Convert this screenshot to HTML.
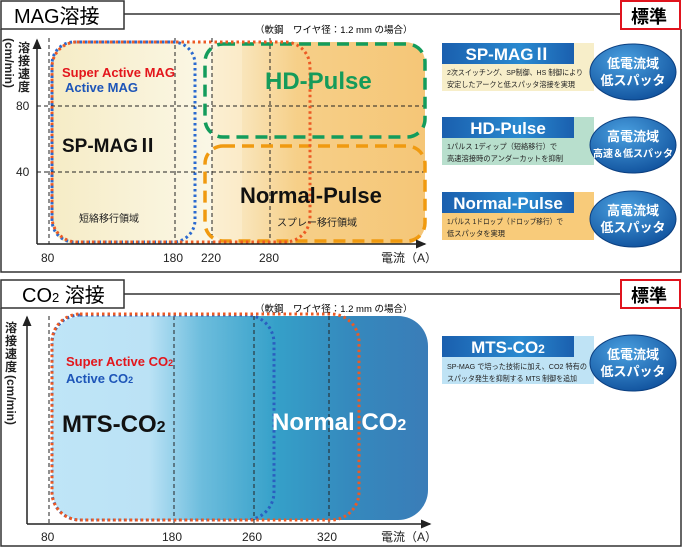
<!DOCTYPE html>
<html><head><meta charset="utf-8"><style>
body{margin:0;width:683px;height:548px;background:#fff;overflow:hidden}
svg{display:block;font-family:"Liberation Sans","Noto Sans CJK JP",sans-serif}
</style></head><body>
<svg width="683" height="548" viewBox="0 0 683 548">
<defs>
<linearGradient id="gy" x1="0" x2="1"><stop offset="0" stop-color="#f6ecc6"/><stop offset="1" stop-color="#fbf8e8"/></linearGradient>
<linearGradient id="go" x1="0" x2="1"><stop offset="0" stop-color="#fbf1d6"/><stop offset="0.4" stop-color="#f6cf88"/><stop offset="1" stop-color="#f5c677"/></linearGradient>
<linearGradient id="gb" gradientUnits="userSpaceOnUse" x1="52" x2="425"><stop offset="0" stop-color="#bfe5f7"/><stop offset="0.26" stop-color="#bbe2f5"/><stop offset="0.4" stop-color="#6dbddd"/><stop offset="0.6" stop-color="#35a0c9"/><stop offset="0.8" stop-color="#3589bd"/><stop offset="1" stop-color="#3a7db8"/></linearGradient>
<linearGradient id="gh" x1="0" x2="1"><stop offset="0" stop-color="#1a5fae"/><stop offset="0.6" stop-color="#2a8ad0"/><stop offset="1" stop-color="#1a5fae"/></linearGradient>
<radialGradient id="ge" cx="0.4" cy="0.3" r="0.8"><stop offset="0" stop-color="#4aa0e0"/><stop offset="1" stop-color="#0c4c98"/></radialGradient>
<marker id="ar" markerWidth="8" markerHeight="8" refX="6" refY="4" orient="auto"><path d="M0,1 L7,4 L0,7z" fill="#222"/></marker>
</defs>
<!-- TOP FRAME -->
<path d="M1 29 V272 H681 V29" fill="none" stroke="#333" stroke-width="1.5"/>
<line x1="124" y1="14" x2="621" y2="14" stroke="#333" stroke-width="1.5"/>
<rect x="1" y="1" width="123" height="28" fill="#fff" stroke="#333" stroke-width="1.5"/>
<text x="14" y="23" font-size="20">MAG溶接</text>
<rect x="621" y="1" width="59" height="28" fill="#fff" stroke="#e0141e" stroke-width="2"/>
<text x="631" y="23" font-size="18" font-weight="bold">標準</text>
<text x="255" y="33" font-size="9.5">（軟鋼　ワイヤ径：1.2 mm の場合）</text>
<rect x="52" y="42" width="170" height="202" rx="22" fill="url(#gy)"/>
<rect x="212" y="42" width="213" height="202" rx="20" fill="url(#go)"/>
<rect x="212" y="42" width="30" height="202" fill="#fbefd0" opacity="0.6"/>
<g stroke="#222" stroke-width="1" stroke-dasharray="4,3" fill="none">
<line x1="49" y1="38" x2="49" y2="244"/><line x1="175" y1="38" x2="175" y2="244"/>
<line x1="212" y1="38" x2="212" y2="244"/><line x1="270" y1="38" x2="270" y2="244"/>
<line x1="37" y1="106" x2="425" y2="106"/><line x1="37" y1="172" x2="425" y2="172"/>
</g>
<rect x="205" y="44" width="220" height="93" rx="18" fill="none" stroke="#139c5c" stroke-width="3.5" stroke-dasharray="12,7"/>
<rect x="205" y="146" width="220" height="95" rx="18" fill="none" stroke="#f09a10" stroke-width="3.5" stroke-dasharray="12,7"/>
<rect x="52" y="42" width="143" height="200" rx="22" fill="none" stroke="#2a6ad0" stroke-width="3" stroke-dasharray="2.5,3"/>
<rect x="52" y="42" width="258" height="200" rx="25" fill="none" stroke="#ec5a24" stroke-width="3" stroke-dasharray="2.5,3"/>
<line x1="37" y1="244" x2="425" y2="244" stroke="#222" stroke-width="1.5" marker-end="url(#ar)"/>
<line x1="37" y1="244" x2="37" y2="40" stroke="#222" stroke-width="1.5" marker-end="url(#ar)"/>
<text transform="translate(5,38) rotate(90)" font-size="12" font-weight="bold" fill="#222">(cm/min)</text>
<g font-size="12" font-weight="bold" fill="#222"><text x="18" y="52">溶</text><text x="18" y="65">接</text><text x="18" y="78">速</text><text x="18" y="91">度</text></g>
<text x="16" y="110" font-size="12" fill="#222">80</text>
<text x="16" y="176" font-size="12" fill="#222">40</text>
<g font-size="12" fill="#222"><text x="41" y="262">80</text><text x="163" y="262">180</text><text x="201" y="262">220</text><text x="259" y="262">280</text><text x="381" y="262">電流（A）</text></g>
<text x="62" y="77" font-size="13" font-weight="bold" fill="#e3161c">Super Active MAG</text>
<text x="65" y="92" font-size="13" font-weight="bold" fill="#1d55b8">Active MAG</text>
<text x="62" y="152" font-size="19" font-weight="bold" fill="#111">SP-MAGⅡ</text>
<text x="265" y="89" font-size="24" font-weight="bold" fill="#159b5a">HD-Pulse</text>
<text x="240" y="203" font-size="22" font-weight="bold" fill="#111">Normal-Pulse</text>
<text x="79" y="222" font-size="10" fill="#222">短絡移行領域</text>
<text x="277" y="226" font-size="10" fill="#222">スプレー移行領域</text>
<g font-size="7.5" fill="#222">
<rect x="442" y="43" width="152" height="48" fill="#f7eec9"/>
<rect x="442" y="43" width="132" height="21" fill="url(#gh)"/>
<text x="508" y="60" font-size="17" font-weight="bold" fill="#fff" text-anchor="middle">SP-MAGⅡ</text>
<text x="447" y="75" textLength="136" lengthAdjust="spacingAndGlyphs">2次スイッチング、SP制御、HS 制御により</text>
<text x="447" y="87" textLength="128" lengthAdjust="spacingAndGlyphs">安定したアークと低スパッタ溶接を実現</text>
<rect x="442" y="117" width="152" height="48" fill="#b8dfcd"/>
<rect x="442" y="117" width="132" height="21" fill="url(#gh)"/>
<text x="508" y="134" font-size="17" font-weight="bold" fill="#fff" text-anchor="middle">HD-Pulse</text>
<text x="447" y="149" textLength="110" lengthAdjust="spacingAndGlyphs">1パルス 1ディップ（短絡移行）で</text>
<text x="447" y="161" textLength="116" lengthAdjust="spacingAndGlyphs">高速溶接時のアンダーカットを抑制</text>
<rect x="442" y="192" width="152" height="48" fill="#f8cb7a"/>
<rect x="442" y="192" width="132" height="21" fill="url(#gh)"/>
<text x="508" y="209" font-size="17" font-weight="bold" fill="#fff" text-anchor="middle">Normal-Pulse</text>
<text x="447" y="224" textLength="116" lengthAdjust="spacingAndGlyphs">1パルス 1ドロップ（ドロップ移行）で</text>
<text x="447" y="236" textLength="58" lengthAdjust="spacingAndGlyphs">低スパッタを実現</text>
</g>
<g font-weight="bold" fill="#fff" text-anchor="middle">
<ellipse cx="633" cy="72" rx="43" ry="28" fill="url(#ge)" stroke="#0b3f80"/>
<text x="633" y="68" font-size="13">低電流域</text><text x="633" y="85" font-size="13">低スパッタ</text>
<ellipse cx="633" cy="145" rx="43" ry="28" fill="url(#ge)" stroke="#0b3f80"/>
<text x="633" y="141" font-size="13">高電流域</text><text x="633" y="157" font-size="10">高速＆低スパッタ</text>
<ellipse cx="633" cy="219" rx="43" ry="28" fill="url(#ge)" stroke="#0b3f80"/>
<text x="633" y="215" font-size="13">高電流域</text><text x="633" y="232" font-size="13">低スパッタ</text>
</g>
<!-- BOTTOM FRAME -->
<path d="M1 308 V546 H681 V308" fill="none" stroke="#333" stroke-width="1.5"/>
<line x1="124" y1="294" x2="621" y2="294" stroke="#333" stroke-width="1.5"/>
<rect x="1" y="280" width="123" height="28" fill="#fff" stroke="#333" stroke-width="1.5"/>
<text x="22" y="302" font-size="20">CO<tspan font-size="13">2</tspan> 溶接</text>
<rect x="621" y="280" width="59" height="28" fill="#fff" stroke="#e0141e" stroke-width="2"/>
<text x="631" y="302" font-size="18" font-weight="bold">標準</text>
<text x="255" y="312" font-size="9.5">（軟鋼　ワイヤ径：1.2 mm の場合）</text>
<rect x="52" y="316" width="376" height="204" rx="30" fill="url(#gb)"/>
<g stroke="#222" stroke-width="1" stroke-dasharray="4,3"><line x1="49" y1="316" x2="49" y2="523"/><line x1="174" y1="316" x2="174" y2="523"/><line x1="254" y1="316" x2="254" y2="523"/><line x1="329" y1="316" x2="329" y2="523"/></g>
<rect x="52" y="315" width="222" height="205" rx="28" fill="none" stroke="#2a5fbf" stroke-width="3" stroke-dasharray="2.5,3"/>
<rect x="52" y="314" width="307" height="206" rx="28" fill="none" stroke="#ec5a24" stroke-width="3" stroke-dasharray="2.5,3"/>
<line x1="27" y1="524" x2="430" y2="524" stroke="#222" stroke-width="1.5" marker-end="url(#ar)"/>
<line x1="27" y1="524" x2="27" y2="317" stroke="#222" stroke-width="1.5" marker-end="url(#ar)"/>
<g font-size="12" font-weight="bold" fill="#222"><text x="5" y="332">溶</text><text x="5" y="345">接</text><text x="5" y="358">速</text><text x="5" y="371">度</text></g>
<text transform="translate(7,375) rotate(90)" font-size="12" font-weight="bold" fill="#222">(cm/min)</text>
<g font-size="12" fill="#222"><text x="41" y="541">80</text><text x="162" y="541">180</text><text x="242" y="541">260</text><text x="317" y="541">320</text><text x="381" y="541">電流（A）</text></g>
<text x="66" y="366" font-size="13" font-weight="bold" fill="#e3161c">Super Active CO<tspan font-size="9">2</tspan></text>
<text x="66" y="383" font-size="13" font-weight="bold" fill="#1d55b8">Active CO<tspan font-size="9">2</tspan></text>
<text x="62" y="432" font-size="24" font-weight="bold" fill="#111">MTS-CO<tspan font-size="16">2</tspan></text>
<text x="272" y="430" font-size="24" font-weight="bold" fill="#fff">Normal CO<tspan font-size="16">2</tspan></text>
<g font-size="7.5" fill="#222">
<rect x="442" y="336" width="152" height="48" fill="#bfe3f5"/>
<rect x="442" y="336" width="132" height="21" fill="url(#gh)"/>
<text x="508" y="353" font-size="17" font-weight="bold" fill="#fff" text-anchor="middle">MTS-CO<tspan font-size="12">2</tspan></text>
<text x="447" y="369" textLength="140" lengthAdjust="spacingAndGlyphs">SP-MAG で培った技術に加え、CO2 特有の</text>
<text x="447" y="381" textLength="130" lengthAdjust="spacingAndGlyphs">スパッタ発生を抑制する MTS 制御を追加</text>
</g>
<g font-weight="bold" fill="#fff" text-anchor="middle">
<ellipse cx="633" cy="363" rx="43" ry="28" fill="url(#ge)" stroke="#0b3f80"/>
<text x="633" y="359" font-size="13">低電流域</text><text x="633" y="376" font-size="13">低スパッタ</text>
</g>
</svg>
</body></html>
